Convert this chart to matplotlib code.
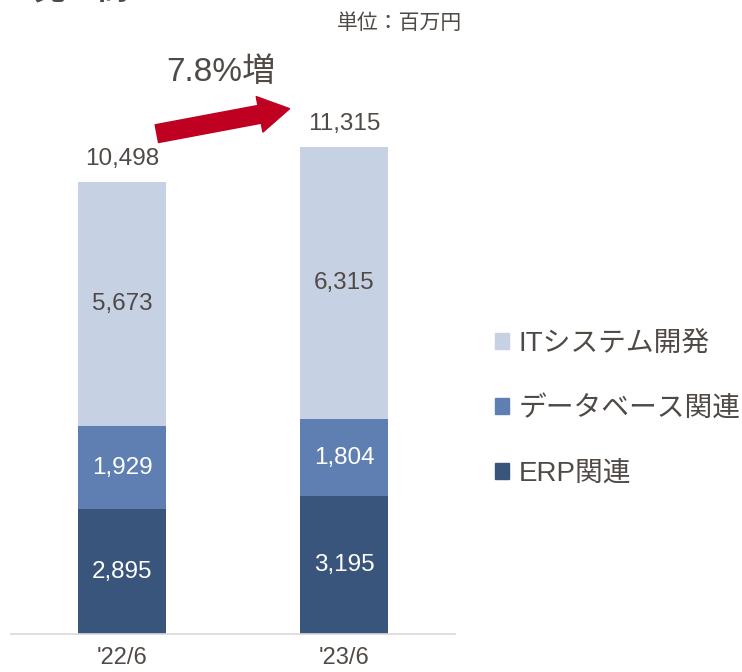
import matplotlib.pyplot as plt
from matplotlib.patches import Patch

plt.rcParams['font.family'] = ['Liberation Sans', 'Noto Sans CJK JP', 'DejaVu Sans']

# data (million yen)
periods = ["'22/6", "'23/6"]
erp = [2895, 3195]
database = [1929, 1804]
it_system = [5673, 6315]
totals = [10498, 11315]

series_names = ['ITシステム開発', 'データベース関連', 'ERP関連']
col_it = '#C6D1E4'
col_db = '#5F7FB3'
col_erp = '#3A557C'
text_col = '#504A46'

W, H, dpi = 742, 672, 100
fig = plt.figure(figsize=(W / dpi, H / dpi), dpi=dpi)
ax = fig.add_axes([11 / W, (H - 634) / H, 444 / W, 634 / H])

x = range(len(periods))
bw = 0.395
ax.bar(x, erp, bw, color=col_erp)
ax.bar(x, database, bw, bottom=erp, color=col_db)
bottom2 = [a + b for a, b in zip(erp, database)]
ax.bar(x, it_system, bw, bottom=bottom2, color=col_it)

fs = 17.5
for i in x:
    ax.text(i, erp[i] / 2, f'{erp[i]:,}', ha='center', va='center',
            color='white', fontsize=fs)
    ax.text(i, erp[i] + database[i] / 2, f'{database[i]:,}', ha='center',
            va='center', color='white', fontsize=fs)
    ax.text(i, bottom2[i] + it_system[i] / 2, f'{it_system[i]:,}',
            ha='center', va='center', color=text_col, fontsize=fs)
    ax.text(i, totals[i] + 530, f'{totals[i]:,}', ha='center', va='center',
            color=text_col, fontsize=fs)

ax.set_xlim(-0.5, 1.5)
ax.set_ylim(0, 14724)
for s in ['top', 'right', 'left']:
    ax.spines[s].set_visible(False)
ax.spines['bottom'].set_color('#D9D9D9')
ax.spines['bottom'].set_linewidth(1.2)
ax.set_yticks([])
ax.set_xticks(list(x))
ax.set_xticklabels(periods, fontsize=17, color=text_col)
ax.tick_params(axis='x', length=0, pad=9)

# growth arrow
ax.annotate('', xy=(0.755, 12200), xytext=(0.157, 11620),
            arrowprops=dict(arrowstyle='simple,head_length=1.1,head_width=1.3,tail_width=0.65',
                            color='#C00020', mutation_scale=20, shrinkA=0, shrinkB=0))
growth = (totals[1] / totals[0] - 1) * 100
ax.text(0.445, 13050, f'{growth:.1f}%増', ha='center', va='center',
        fontsize=24, color=text_col)

# unit label and cropped title
fig.text(462 / W, 1 - 23 / H, '単位：百万円', ha='right', va='center',
         fontsize=15, color=text_col)
fig.text(33 / W, 1 - 6 / H, '売上高', ha='left', va='bottom', fontsize=23,
         fontweight='bold', color=text_col)

handles = [Patch(color=col_it), Patch(color=col_db), Patch(color=col_erp)]
fig.legend(handles, series_names, loc='center left',
           bbox_to_anchor=(481 / W, 1 - 409 / H), frameon=False, borderpad=0,
           fontsize=20, labelcolor=text_col, handlelength=0.5,
           handleheight=0.5, handletextpad=0.35, labelspacing=1.4)

fig.savefig('out.png', dpi=dpi)
